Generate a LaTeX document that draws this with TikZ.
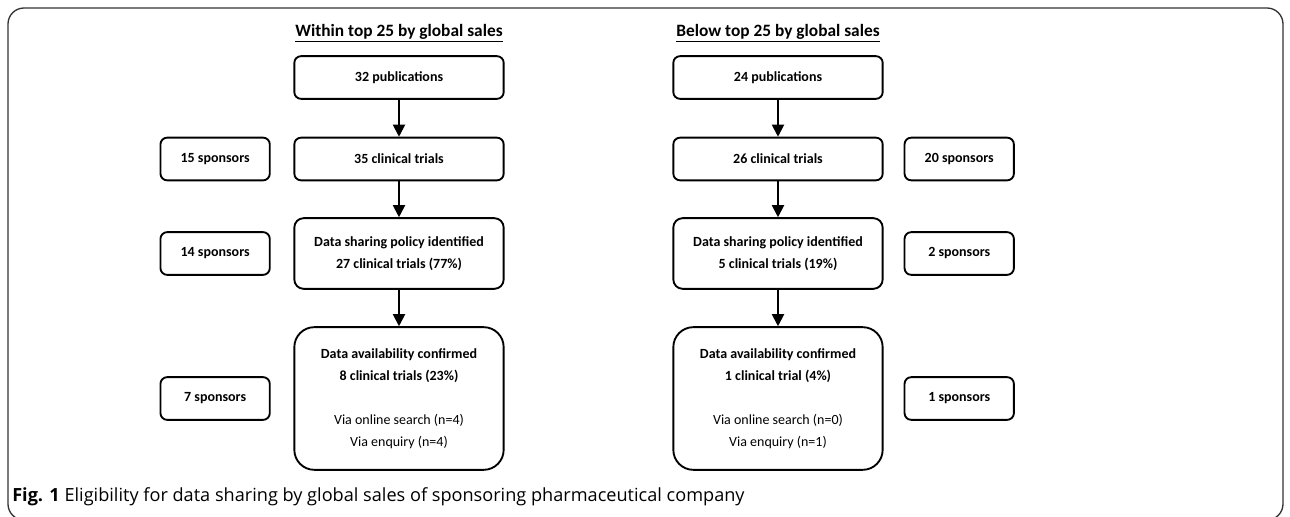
\documentclass[tikz,border=0pt]{standalone}
\usepackage{fontspec}
\setmainfont{Carlito}
\newfontfamily\capfont{Open Sans}
\usetikzlibrary{positioning,arrows.meta}

\tikzset{
	kasten/.style={draw, line width=1.4pt, rounded corners=5pt, align=center,
		inner sep=0pt, minimum width=157pt, minimum height=32pt,
		font=\fontsize{10.5}{16.5}\selectfont\bfseries},
	sponsor/.style={kasten, minimum width=82pt},
	pfeil/.style={-{Triangle[length=9pt,width=9pt]}, line width=1.4pt},
	kopf/.style={font=\fontsize{13}{15}\selectfont\bfseries, inner sep=0pt}
}

\begin{document}
\begin{tikzpicture}[x=0.75pt,y=-0.75pt]
\useasboundingbox (0,0) rectangle (1290,517);
\clip (0,0) rectangle (1290,517);
% Rahmen
\draw[line width=1pt, color=black!80, rounded corners=12pt]
	(8,8) rectangle (1283,520);

% links: top 25
\node[kopf] (kopfL) at (399,33) {\underline{Within top 25 by global sales}};
\node[kasten] (pubL) at (399,77.5) {32 publications};
\node[kasten] (trialL) at (399,159) {35 clinical trials};
\node[kasten, minimum height=53pt, rounded corners=7pt] (policyL) at (399,253.5)
	{Data sharing policy identified\\27 clinical trials (77\%)};
\node[kasten, minimum height=107pt, rounded corners=15pt] (availL) at (399,398.5)
	{Data availability confirmed\\8 clinical trials (23\%)\\[16.5pt]
	\mdseries Via online search (n=4)\\\mdseries Via enquiry (n=4)};
\node[sponsor, left=17pt of trialL] (spTrialL) {15 sponsors};
\node[sponsor, left=17pt of policyL] (spPolicyL) {14 sponsors};
\node[sponsor, left=17pt of availL] (spAvailL) {7 sponsors};

% rechts: unter top 25
\node[kopf] (kopfR) at (778,33) {\underline{Below top 25 by global sales}};
\node[kasten] (pubR) at (778,77.5) {24 publications};
\node[kasten] (trialR) at (778,159) {26 clinical trials};
\node[kasten, minimum height=53pt, rounded corners=7pt] (policyR) at (778,253.5)
	{Data sharing policy identified\\5 clinical trials (19\%)};
\node[kasten, minimum height=107pt, rounded corners=15pt] (availR) at (778,398.5)
	{Data availability confirmed\\1 clinical trial (4\%)\\[16.5pt]
	\mdseries Via online search (n=0)\\\mdseries Via enquiry (n=1)};
\node[sponsor, right=15pt of trialR] (spTrialR) {20 sponsors};
\node[sponsor, right=15pt of policyR] (spPolicyR) {2 sponsors};
\node[sponsor, right=15pt of availR] (spAvailR) {1 sponsors};

% Pfeile
\foreach \a/\b in {pubL/trialL, trialL/policyL, policyL/availL,
		pubR/trialR, trialR/policyR, policyR/availR}{
	\draw[pfeil] (\a) -- (\b);
}

% Bildunterschrift
\node[anchor=west, inner sep=0pt, font=\capfont\fontsize{13.6}{15}\selectfont] (caption) at (12,497)
	{\textbf{Fig. 1} Eligibility for data sharing by global sales of sponsoring pharmaceutical company};
\end{tikzpicture}
\end{document}
